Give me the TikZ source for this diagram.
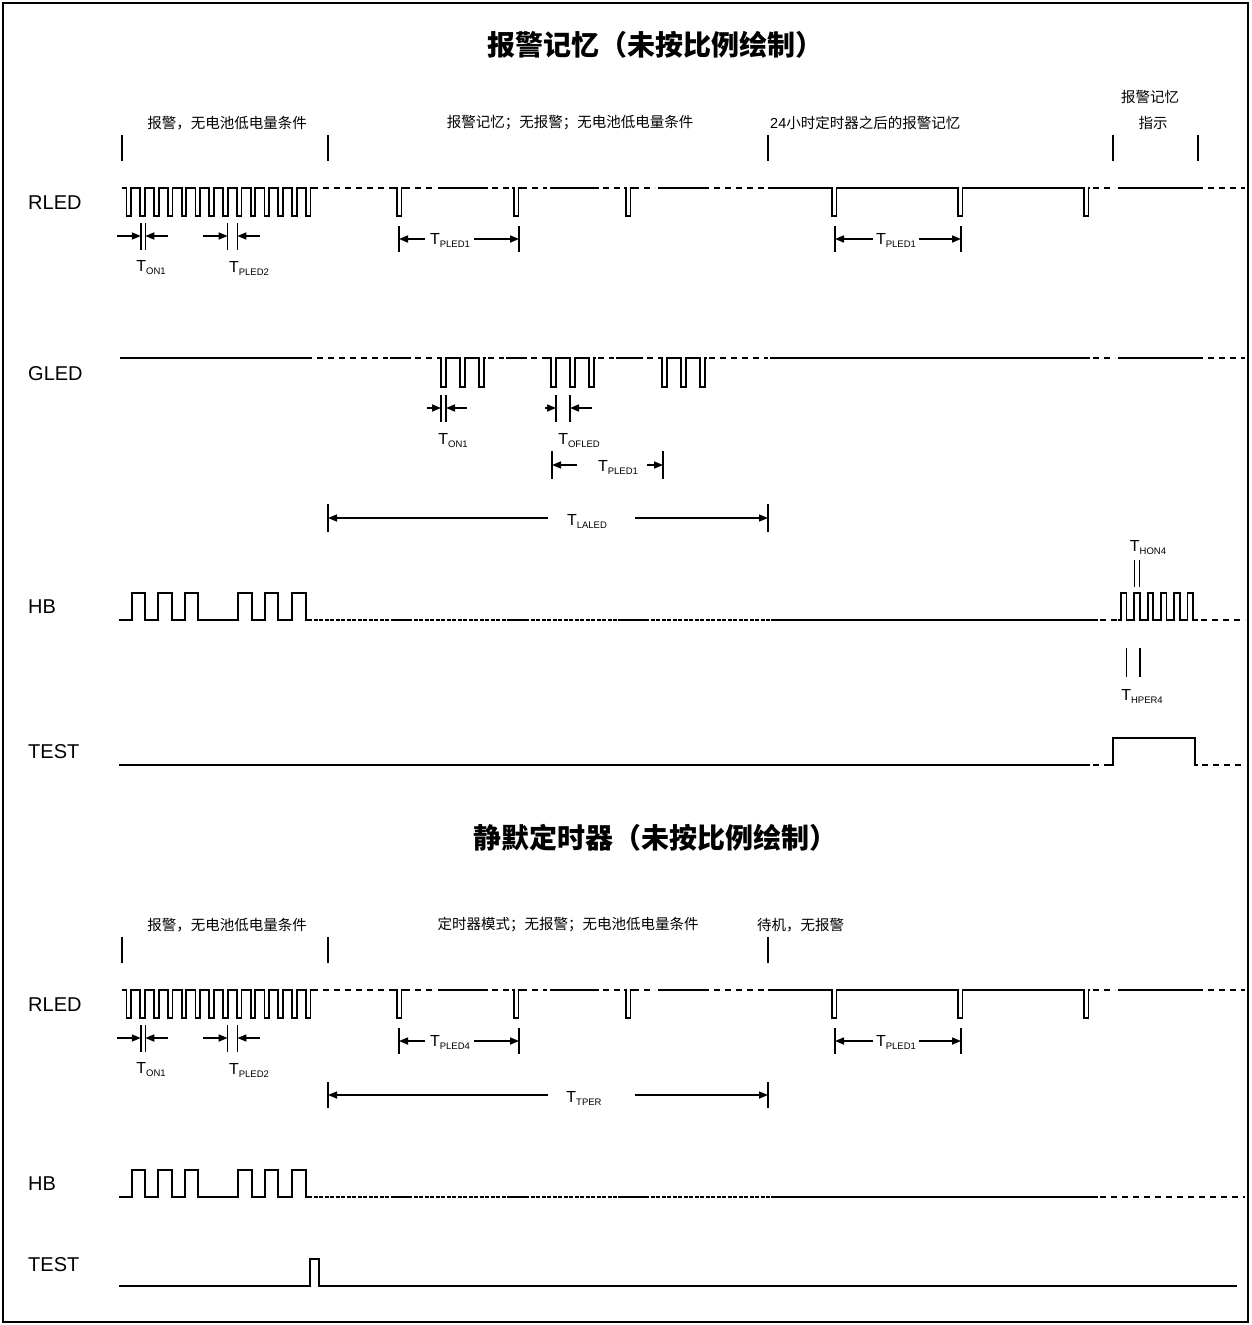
\documentclass[tikz,border=0pt]{standalone}
\usepackage{fontspec}
\setmainfont{Liberation Sans}
\newfontfamily\cjk{Noto Sans CJK SC}
\usetikzlibrary{arrows.meta}
\newcommand\Tsub[1]{T\raisebox{-3pt}{\fontsize{9.5}{10}\selectfont #1}}

\tikzset{
  wave/.style={line width=1.8pt},
  dsh/.style={line width=1.8pt, dash pattern=on 6pt off 5pt},
  fdsh/.style={line width=1.3pt, dash pattern=on 4pt off 1.5pt},
  mk/.style={line width=1.6pt},
  thinmk/.style={line width=1.2pt},
  dimarr/.style={line width=1.6pt, -{Triangle[length=9pt,width=7pt]}},
  sig/.style={anchor=west, inner sep=0pt, font=\fontsize{20}{22}\selectfont},
  cn/.style={inner sep=0pt, font=\cjk\fontsize{14.5}{16}\selectfont},
  tl/.style={inner sep=0pt, font=\fontsize{16}{18}\selectfont},
  ttl/.style={inner sep=0pt, font=\cjk\bfseries\fontsize{28}{30}\selectfont},
}

% one narrow low pulse of an RLED row, at x = #1 (row high level 188, low 216)
\newcommand\dip[1]{\draw[wave] ({#1-2},188) -- (#1,188) -- ++(0,28) -- ++(4.5,0) -- ++(0,-28) -- ++(2,0);}

% RLED row: #1 yshift, #2 subscript of middle period, #3 name suffix
\newcommand\RledRow[3]{%
\begin{scope}[yshift=#1]
  \draw[wave] (122,188) \foreach \k in {0,...,13}{ -- ({126.5+13.8*\k},188) -- ++(0,28) -- ++(4.5,0) -- ++(0,-28)} -- (312,188);
  \draw[dsh] (312,188) -- (396,188);
  \dip{397}
  \draw[dsh] (404,188) -- (436,188);
  \draw[wave] (438,188) -- (488,188);
  \draw[dsh] (492,188) -- (512,188);
  \dip{514}
  \draw[dsh] (521,188) -- (547,188);
  \draw[wave] (550,188) -- (599,188);
  \draw[dsh] (603,188) -- (624,188);
  \dip{626}
  \draw[dsh] (633,188) -- (655,188);
  \draw[wave] (658,188) -- (709,188);
  \draw[dsh] (714,188) -- (766,188);
  \draw[wave] (768,188) -- (832,188) -- ++(0,28) -- ++(4.5,0) -- ++(0,-28)
        -- (958,188) -- ++(0,28) -- ++(4.5,0) -- ++(0,-28)
        -- (1084,188) -- ++(0,28) -- ++(4.5,0) -- ++(0,-28) -- (1090,188);
  \draw[dsh] (1093,188) -- (1115,188);
  \draw[wave] (1118,188) -- (1203,188);
  \draw[dsh] (1208,188) -- (1245,188);
  % T_ON1 and T_PLED2
  \coordinate (on1a#3) at (140.8,236);
  \coordinate (on1b#3) at (145.3,236);
  \coordinate (pl2a#3) at (227.6,236);
  \coordinate (pl2b#3) at (237.4,236);
  \foreach \c in {on1a#3,on1b#3,pl2a#3,pl2b#3}{\draw[mk] ([yshift=13pt]\c) -- ([yshift=-14pt]\c);}
  \draw[dimarr] (117,236) -- (on1a#3);
  \draw[dimarr] (168,236) -- (on1b#3);
  \draw[dimarr] (203,236) -- (pl2a#3);
  \draw[dimarr] (260,236) -- (pl2b#3);
  \node[tl] (lon#3) at (151,268) {\Tsub{ON1}};
  \node[tl] (lpl2#3) at (249,268) {\Tsub{PLED2}};
  % middle period
  \coordinate (mA#3) at (399,239);
  \coordinate (mB#3) at (519,239);
  \foreach \c in {mA#3,mB#3}{\draw[mk] ([yshift=13pt]\c) -- ([yshift=-13pt]\c);}
  \node[tl] (lmid#3) at (450,240) {\Tsub{#2}};
  \draw[dimarr] (425,239) -- (mA#3);
  \draw[dimarr] (474,239) -- (mB#3);
  % right period
  \coordinate (rA#3) at (835,239);
  \coordinate (rB#3) at (961,239);
  \foreach \c in {rA#3,rB#3}{\draw[mk] ([yshift=13pt]\c) -- ([yshift=-13pt]\c);}
  \node[tl] (lr#3) at (896,240) {\Tsub{PLED1}};
  \draw[dimarr] (873,239) -- (rA#3);
  \draw[dimarr] (919,239) -- (rB#3);
\end{scope}}

% HB left part and middle line, #1 yshift
\newcommand\HbRow[1]{%
\begin{scope}[yshift=#1]
  \draw[wave] (119,620) -- (132,620) |- (145,593) |- (158,620) |- (172,593) |- (185,620) |- (198,593)
     |- (238,620) |- (252,593) |- (265,620) |- (278,593) |- (292,620) |- (306,593) -- (306,620) -- (308,620);
  \draw[fdsh] (308,620) -- (392,620);
  \draw[wave] (392,620) -- (408,620);
  \draw[fdsh] (408,620) -- (510,620);
  \draw[wave] (510,620) -- (525,620);
  \draw[fdsh] (525,620) -- (618,620);
  \draw[wave] (618,620) -- (645,620);
  \draw[fdsh] (645,620) -- (771,620);
  \draw[wave] (771,620) -- (1098,620);
\end{scope}}

\begin{document}
\begin{tikzpicture}[x=1pt,y=-1pt]
\useasboundingbox (0,0) rectangle (1251,1325);
\draw[line width=1.2pt] (3,3) rectangle (1248,1322);

% ---------------- titles ----------------
\node[ttl] (title1) at (655,45) {报警记忆（未按比例绘制）};
\node[ttl] (title2) at (655,838) {静默定时器（未按比例绘制）};

% ---------------- top section ----------------
\node[cn] (s1) at (227,123) {报警，无电池低电量条件};
\node[cn] (s2) at (570,123) {报警记忆；无报警；无电池低电量条件};
\node[cn,anchor=west] (s3) at (770,123) {{\normalfont 24}小时定时器之后的报警记忆};
\node[cn] (s4) at (1150,97) {报警记忆};
\node[cn] (s5) at (1153,123) {指示};
\foreach \x in {122,328,768,1113,1198}{\draw[mk] (\x,135) -- (\x,161);}

\node[sig] (nR1) at (28,203) {RLED};
\node[sig] (nG1) at (28,374) {GLED};
\node[sig] (nH1) at (28,607) {HB};
\node[sig] (nT1) at (28,752) {TEST};

\RledRow{0pt}{PLED1}{t}

% GLED
\draw[wave] (120,358) -- (306,358);
\draw[dsh] (306,358) -- (388,358);
\draw[wave] (390,358) -- (411,358);
\draw[dsh] (415,358) -- (438,358);
\foreach \x in {441,551,662}{
  \draw[wave] ({\x-3},358) -- (\x,358) |- ({\x+5},387) |- ({\x+19},358) |- ({\x+24},387)
     |- ({\x+38},358) |- ({\x+43},387) -- ({\x+43},358) -- ({\x+45},358);}
\draw[dsh] (488,358) -- (504,358);
\draw[wave] (506,358) -- (527,358);
\draw[dsh] (531,358) -- (549,358);
\draw[dsh] (598,358) -- (614,358);
\draw[wave] (616,358) -- (643,358);
\draw[dsh] (647,358) -- (660,358);
\draw[dsh] (709,358) -- (768,358);
\draw[wave] (770,358) -- (1090,358);
\draw[dsh] (1093,358) -- (1115,358);
\draw[wave] (1118,358) -- (1203,358);
\draw[dsh] (1208,358) -- (1245,358);

% GLED T_ON1
\coordinate (gonA) at (441,408);
\coordinate (gonB) at (446,408);
\foreach \c in {gonA,gonB}{\draw[mk] ([yshift=13pt]\c) -- ([yshift=-14pt]\c);}
\draw[dimarr] (427,408) -- (gonA);
\draw[dimarr] (467,408) -- (gonB);
\node[tl] (lgon) at (453,441) {\Tsub{ON1}};
% GLED T_OFLED
\coordinate (gofA) at (556,408);
\coordinate (gofB) at (570,408);
\foreach \c in {gofA,gofB}{\draw[mk] ([yshift=13pt]\c) -- ([yshift=-14pt]\c);}
\draw[dimarr] (545,408) -- (gofA);
\draw[dimarr] (592,408) -- (gofB);
\node[tl] (lgof) at (579,441) {\Tsub{OFLED}};
% GLED T_PLED1
\coordinate (gpA) at (552,465);
\coordinate (gpB) at (663,465);
\foreach \c in {gpA,gpB}{\draw[mk] ([yshift=14pt]\c) -- ([yshift=-14pt]\c);}
\draw[dimarr] (577,465) -- (gpA);
\draw[dimarr] (647,465) -- (gpB);
\node[tl] (lgp) at (618,467) {\Tsub{PLED1}};

% T_LALED
\coordinate (laA) at (328,518);
\coordinate (laB) at (768,518);
\foreach \c in {laA,laB}{\draw[mk] ([yshift=14pt]\c) -- ([yshift=-14pt]\c);}
\draw[dimarr] (548,518) -- (laA);
\draw[dimarr] (635,518) -- (laB);
\node[tl] (lla) at (587,521) {\Tsub{LALED}};

% HB top
\HbRow{0pt}
\draw[dsh] (1100,620) -- (1119,620);
\draw[wave] (1118,620) \foreach \k in {0,...,5}{ -- ({1121+13.3*\k},620) -- ++(0,-27) -- ++(5.5,0) -- ++(0,27)} -- (1198,620);
\draw[dsh] (1201,620) -- (1245,620);
\coordinate (honA) at (1134.3,573);
\coordinate (honB) at (1139.8,573);
\foreach \c in {honA,honB}{\draw[thinmk] ([yshift=13pt]\c) -- ([yshift=-14pt]\c);}
\node[tl] (lhon) at (1148,548) {\Tsub{HON4}};
\coordinate (hpA) at (1126.5,662);
\coordinate (hpB) at (1139.8,662);
\foreach \c in {hpA,hpB}{\draw[mk] ([yshift=14pt]\c) -- ([yshift=-15pt]\c);}
\node[tl] (lhp) at (1142,696) {\Tsub{HPER4}};

% TEST top
\draw[wave] (119,765) -- (1090,765);
\draw[dsh] (1093,765) -- (1110,765);
\draw[wave] (1108,765) -- (1113,765) |- (1195,738) -- (1195,765) -- (1198,765);
\draw[dsh] (1202,765) -- (1245,765);

% ---------------- bottom section ----------------
\node[cn] (b1) at (227,925) {报警，无电池低电量条件};
\node[cn] (b2) at (568,925) {定时器模式；无报警；无电池低电量条件};
\node[cn,anchor=west] (b3) at (757,925) {待机，无报警};
\foreach \x in {122,328,768}{\draw[mk] (\x,937) -- (\x,963);}

\node[sig] (nR2) at (28,1005) {RLED};
\node[sig] (nH2) at (28,1184) {HB};
\node[sig] (nT2) at (28,1265) {TEST};

\RledRow{-802pt}{PLED4}{b}

% T_TPER
\coordinate (tpA) at (328,1095);
\coordinate (tpB) at (768,1095);
\foreach \c in {tpA,tpB}{\draw[mk] ([yshift=13pt]\c) -- ([yshift=-13pt]\c);}
\draw[dimarr] (548,1095) -- (tpA);
\draw[dimarr] (635,1095) -- (tpB);
\node[tl] (ltp) at (584,1098) {\Tsub{TPER}};

% HB bottom
\HbRow{-577pt}
\draw[dsh] (1100,1197) -- (1245,1197);

% TEST bottom
\draw[wave] (119,1286) -- (310,1286) |- (319,1259) -- (319,1286) -- (1237,1286);
\end{tikzpicture}
\end{document}
